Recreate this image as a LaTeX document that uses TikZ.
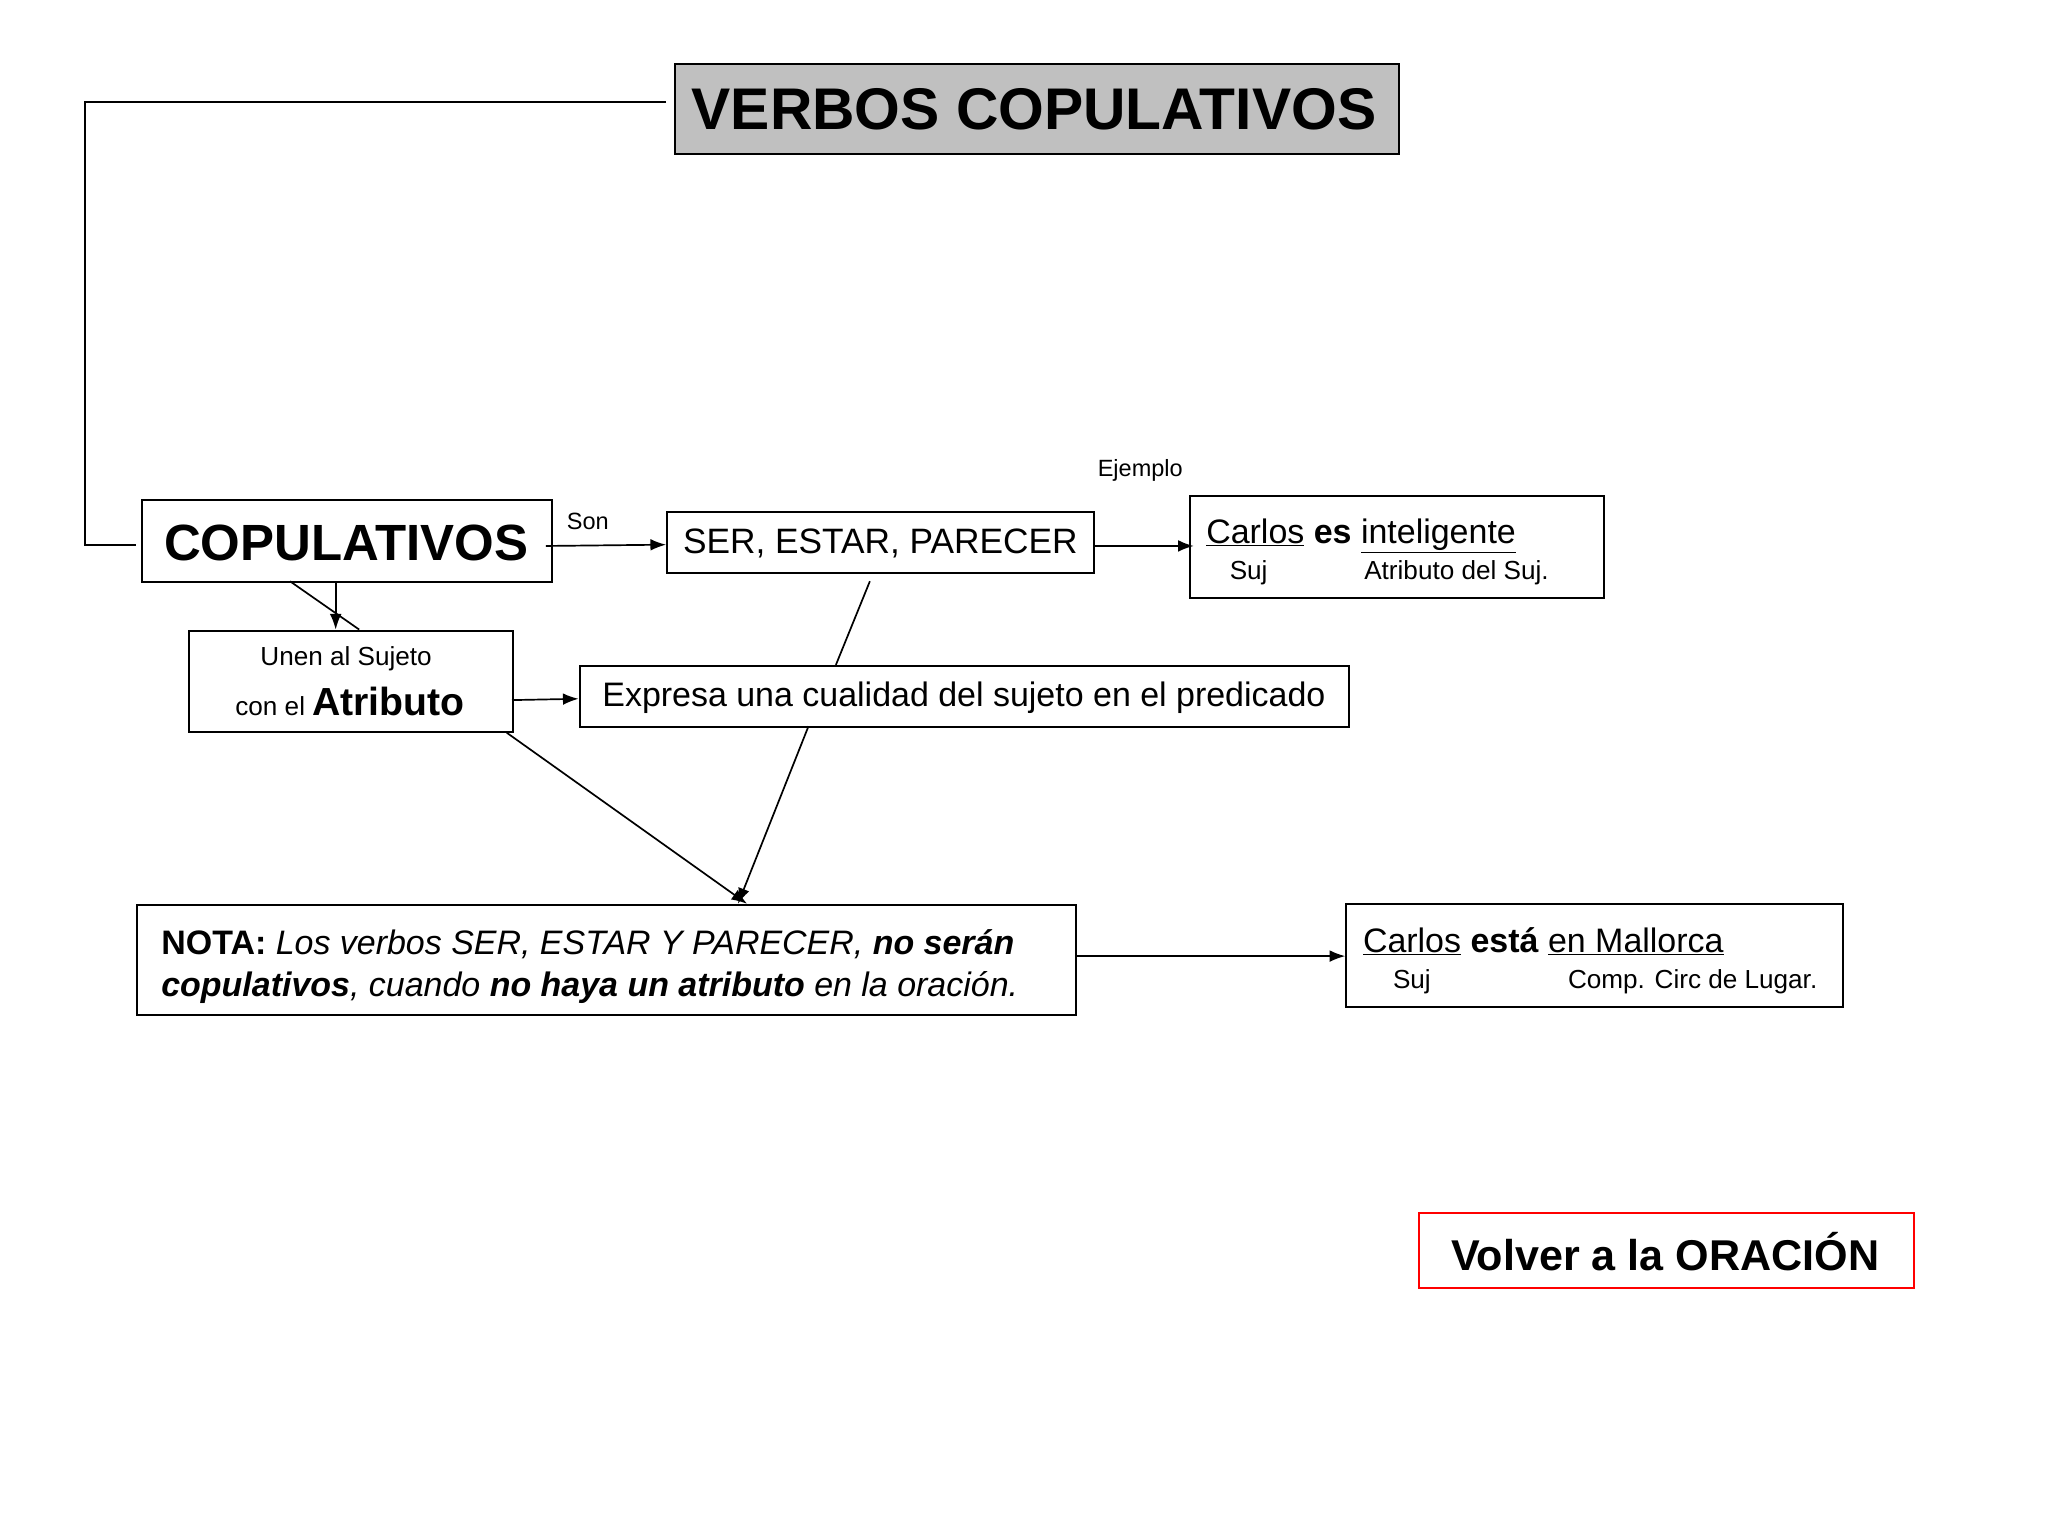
\documentclass[tikz,border=0pt]{standalone}
\usepackage{fontspec}
\setmainfont{Liberation Sans}
\usetikzlibrary{arrows.meta}
\newcommand{\fs}[1]{\fontsize{#1}{#1}\selectfont}
\begin{document}
\begin{tikzpicture}[x=1pt,y=-1pt,
  bx/.style={draw,line width=1.5pt,anchor=north west,inner sep=0pt},
  ar/.style={line width=1.3pt,-{Latex[length=12pt,width=9pt]}},
  ln/.style={line width=1.3pt}]
\useasboundingbox (0,0) rectangle (1568,1176);
\node[bx,fill={rgb,255:red,192;green,192;blue,192},minimum width=554pt,minimum height=69pt] (title) at (516,48) {};
\node[anchor=west] at (526,84) {\fs{45}\bfseries VERBOS COPULATIVOS};
\node[bx,minimum width=314pt,minimum height=63pt] (cop) at (108,382) {};
\node at (265,416) {\fs{39}\bfseries COPULATIVOS};
\draw[ln] (510,78) -- (65,78) -- (65,417) -- (104,417);
\node[bx,minimum width=327pt,minimum height=47pt] (ser) at (510,391) {};
\node at (674,416) {\fs{27}SER, ESTAR, PARECER};
\node at (450,399) {\fs{18}Son};
\draw[ar] (418,418) -- (510,417);
\node[bx,minimum width=317pt,minimum height=78pt] (c1) at (910,379) {};
\node at (873,360) {\fs{18}Ejemplo};
\node[anchor=base west] at (920,416) {\fs{26}\underline{Carlos} \textbf{es} \underline{inteligente}};
\node[anchor=base west] at (938,444) {\fs{20}Suj};
\node[anchor=base west] at (1041,444) {\fs{20}Atributo del Suj.};
\draw[ar] (837,418) -- (914,418);
\node[bx,minimum width=248pt,minimum height=78pt] (unen) at (144,482) {};
\node at (265,504) {\fs{20}Unen al Sujeto};
\node at (268,537) {\fs{20}con el \fs{30}\bfseries Atributo};
\draw[ar] (257,445) -- (257,482);
\draw[ln] (222,445) -- (275,482);
\node[bx,minimum width=589pt,minimum height=47pt] (expr) at (443,509) {};
\node at (738,534) {\fs{26}Expresa una cualidad del sujeto en el predicado};
\draw[ar] (392,536) -- (443,535);
\draw[ln] (666,445) -- (640,509);
\draw[ar] (619,556) -- (565,692);
\draw[ar] (388,561) -- (572,692);
\node[bx,minimum width=719pt,minimum height=84pt] (nota) at (104,692) {};
\node[anchor=base west] at (120,731) {\fs{26}\textbf{NOTA:} \textit{Los verbos SER, ESTAR Y PARECER,} \textbf{\textit{no serán}}};
\node[anchor=base west] at (120,763) {\fs{26}\textbf{\textit{copulativos}}\textit{, cuando} \textbf{\textit{no haya un atributo}} \textit{en la oración.}};
\node[bx,minimum width=380pt,minimum height=79pt] (c2) at (1030,691) {};
\node[anchor=base west] at (1040,729) {\fs{26}\underline{Carlos} \textbf{está} \underline{en Mallorca}};
\node[anchor=base west] at (1063,757) {\fs{20}Suj};
\node[anchor=base west] at (1197,757) {\fs{20}Comp. Circ de Lugar.};
\draw[ar] (823,732) -- (1030,732);
\node[bx,draw=red,minimum width=379pt,minimum height=57pt] (volver) at (1086,928) {};
\node at (1275,958) {\fs{33}\bfseries Volver a la ORACIÓN};
\end{tikzpicture}
\end{document}
